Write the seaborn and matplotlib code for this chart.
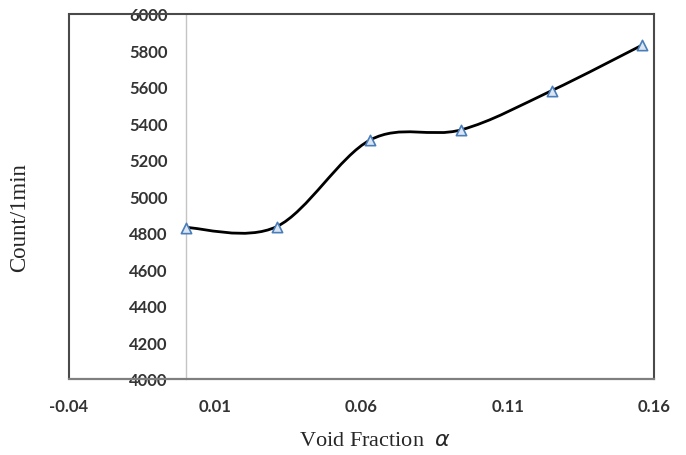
import numpy as np
import pandas as pd
import matplotlib
matplotlib.use("Agg")
import matplotlib.pyplot as plt
from matplotlib.path import Path
from matplotlib.patches import PathPatch
from matplotlib.lines import Line2D
import seaborn as sns

# values
void_fraction = [0.0, 0.031, 0.063, 0.094, 0.125, 0.156]
counts = [4830, 4835, 5310, 5365, 5580, 5830]
x_ticks = [-0.04, 0.01, 0.06, 0.11, 0.16]
y_ticks = list(range(4000, 6001, 200))

df = pd.DataFrame({"alpha": void_fraction, "count": counts})

sns.set_style("white")
plt.rcParams["font.family"] = ["Lato", "DejaVu Sans"]

fig = plt.figure(figsize=(6.86, 4.56), dpi=100)
ax = fig.add_axes([69 / 686, 1 - 380 / 456, 585 / 686, 365 / 456])

# smooth (Excel-style) line: cubic Bezier segments through the data points
pts = df[["alpha", "count"]].to_numpy(dtype=float)
verts = [pts[0]]
codes = [Path.MOVETO]
for i in range(len(pts) - 1):
    p_prev = pts[i - 1] if i > 0 else pts[i]
    p_next = pts[i + 2] if i + 2 < len(pts) else pts[i + 1]
    c1 = pts[i] + (pts[i + 1] - p_prev) / 6
    c2 = pts[i + 1] - (p_next - pts[i]) / 6
    verts += [c1, c2, pts[i + 1]]
    codes += [Path.CURVE4] * 3
ax.add_patch(PathPatch(Path(verts, codes), facecolor="none", edgecolor="black",
                       linewidth=2.0, zorder=3))

sns.scatterplot(data=df, x="alpha", y="count", marker="^", s=55,
                color="#dce6f2", edgecolor="#4a7ebb", linewidth=1.2,
                zorder=4, ax=ax, clip_on=False)

ax.set_xlim(-0.04, 0.16)
ax.set_ylim(4000, 6000)
ax.set_xticks(x_ticks)
ax.set_xticklabels([f"{v:.2f}" for v in x_ticks])
ax.set_yticks(y_ticks)

# frame and axes lines
ax.spines["left"].set_position(("data", 0))
ax.spines["left"].set_color("#c4c4c4")
ax.spines["left"].set_linewidth(1.0)
ax.spines["left"].set_zorder(1)
ax.spines["bottom"].set_color("#7f7f7f")
ax.spines["bottom"].set_linewidth(1.6)
for s in ["top", "right"]:
    ax.spines[s].set_color("#4a4a4a")
    ax.spines[s].set_linewidth(1.5)
ax.add_line(Line2D([0, 0], [0, 1], transform=ax.transAxes, color="#4a4a4a",
                   linewidth=1.5, clip_on=False))

ax.tick_params(axis="y", direction="out", length=4, width=1, color="#c4c4c4",
               pad=9, labelsize=12, labelcolor="#333333")
ax.tick_params(axis="x", direction="out", length=4, width=1, color="#c4c4c4",
               pad=10, labelsize=12, labelcolor="#333333")
for lab in ax.get_xticklabels() + ax.get_yticklabels():
    lab.set_fontweight("bold")

ax.set_xlabel("Void Fraction  $\\alpha$", fontsize=16, family="Liberation Serif")
ax.xaxis.set_label_coords(0.523, -0.168)
ax.xaxis.label.set_va("center")
ax.set_ylabel("Count/1min", fontsize=16.5, family="Liberation Serif")
ax.yaxis.set_label_coords(-0.084, 0.444)
ax.yaxis.label.set_va("center")
plt.rcParams["mathtext.fontset"] = "stix"

fig.savefig("out.png", dpi=100)
